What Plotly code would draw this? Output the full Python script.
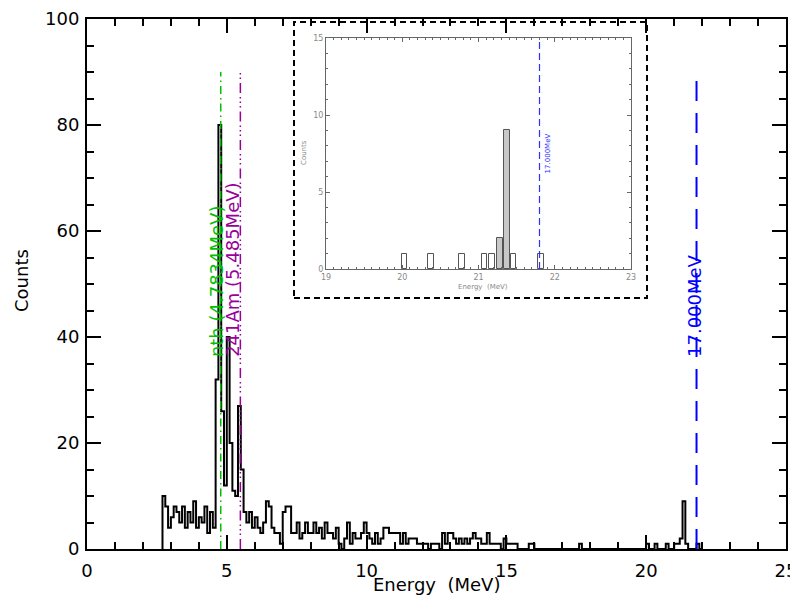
import numpy as np
import plotly.graph_objects as go

# ---------------- data ----------------
bin_width = 0.1
main_start = 2.7
main_counts = [10, 8, 4, 6, 8, 7, 5, 8, 4, 7,        # 2.7-3.6
               5, 9, 4, 6, 5, 8, 3, 7, 4, 32,        # 3.7-4.6
               80, 26, 12, 40, 20, 11, 10, 27, 15, 7,  # 4.7-5.6
               5, 7, 4, 6, 4, 3, 5, 9, 8, 4,         # 5.7-6.6
               3, 3, 1, 7, 8, 8, 3, 3, 5, 2,         # 6.7-7.6
               3, 5, 3, 3, 5, 3, 4, 2, 5, 3,         # 7.7-8.6
               3, 2, 4, 1, 0, 2, 5, 1, 3, 2,         # 8.7-9.6
               2, 3, 5, 3, 2, 1, 3, 1, 2, 4,         # 9.7-10.6
               4, 3, 3, 3, 3, 1, 3, 1, 2, 2,         # 10.7-11.6
               2, 1, 1, 1, 1, 0, 1, 1, 1, 0,         # 11.7-12.6
               3, 1, 3, 3, 2, 1, 2, 1, 2, 1,         # 12.7-13.6
               2, 3, 2, 2, 1, 1, 3, 1, 1, 1,         # 13.7-14.6
               1, 0, 2, 1, 1, 1, 1, 0, 0, 0,         # 14.7-15.6
               0, 1, 1]                              # 15.7-15.9
high_bins = [17.6, 20.0, 20.3, 20.7, 21.0, 21.1, 21.2, 21.3, 21.4, 21.8]
high_counts = [1, 1, 1, 1, 1, 1, 2, 9, 1, 1]
main_end = 22.0

inset_centers = [20.03, 20.38, 20.78, 21.08, 21.18, 21.28, 21.37, 21.46, 21.82]
inset_counts = [1, 1, 1, 1, 1, 2, 9, 1, 1]

line_energies = [4.7834, 5.485, 21.8]
line_labels = ["nth (4.7834MeV)", "241Am (5.485MeV)", "17.000MeV"]
label_x = [4.61, 5.21, 21.72]
inset_line_label = "17.000MeV"

x_ticks = [0, 5, 10, 15, 20, 25]
y_ticks = [0, 20, 40, 60, 80, 100]
inset_x_ticks = [19, 20, 21, 22, 23]
inset_y_ticks = [0, 5, 10, 15]

# ---------------- geometry helpers (page pixels -> paper) ----------------
PL, PR, PT, PB = 86, 785, 18, 548


def px(x):
    return (x - PL) / (PR - PL)


def py(y):
    return (PB - y) / (PB - PT)


# ---------------- build step histogram ----------------
n_bins = int(round((main_end - main_start) / bin_width))
full = np.zeros(n_bins)
full[:len(main_counts)] = main_counts
for e, c in zip(high_bins, high_counts):
    full[int(round((e - main_start) / bin_width))] = c
edges = main_start + bin_width * np.arange(n_bins + 1)
xs = [edges[0]] + list(edges[:-1]) + [edges[-1]]
ys = [0] + list(full) + [0]

fig = go.Figure()
fig.add_trace(go.Scatter(x=xs, y=ys, mode="lines", line=dict(color="black", width=2, shape="hv"),
                         hoverinfo="skip"))

line_colors = ["#00c000", "#990099", "#0000ff"]
dashes = ["8px,4px,1.5px,4px", "10px,4px,1.5px,3px,1.5px,3px,1.5px,4px", "20px,12px"]
widths = [1.5, 1.5, 2]
for e, col, d, w in zip(line_energies, line_colors, dashes, widths):
    fig.add_shape(type="line", xref="x", yref="y", x0=e, x1=e, y0=0, y1=90,
                  line=dict(color=col, width=w, dash=d))

for lab, lx, col in zip(line_labels, label_x, line_colors):
    fig.add_annotation(x=lx, y=36, xref="x", yref="y", text=lab, showarrow=False, textangle=-90,
                       xanchor="center", yanchor="bottom", borderpad=0,
                       font=dict(family="DejaVu Sans", size=18, color=col))

# inset
bar_fill = ["#c8c8c8" if c > 1 else "white" for c in inset_counts]
fig.add_trace(go.Bar(x=inset_centers, y=inset_counts, width=0.075, xaxis="x2", yaxis="y2",
                     marker=dict(color=bar_fill, line=dict(color="#555555", width=1)),
                     hoverinfo="skip"))
fig.add_shape(type="line", xref="x2", yref="y2", x0=21.8, x1=21.8, y0=0, y1=15,
              line=dict(color="#3030ff", width=1.2, dash="7px,4px"))
fig.add_annotation(x=21.91, y=7.5, xref="x2", yref="y2", text=inset_line_label, showarrow=False,
                   textangle=-90, xanchor="center", yanchor="middle",
                   font=dict(family="DejaVu Sans", size=7, color="#3030ff"))

# dashed inset frame
fig.add_shape(type="rect", xref="paper", yref="paper", x0=px(293), x1=px(646), y0=py(297), y1=py(21),
              line=dict(color="black", width=2, dash="6px,4px"), layer="above")

# axis titles
fig.add_annotation(x=px(435), y=py(583), xref="paper", yref="paper",
                   text="Energy  (MeV)", showarrow=False, xanchor="center", yanchor="middle",
                   font=dict(family="DejaVu Sans", size=18, color="black"))
fig.add_annotation(x=px(20), y=py(280), xref="paper", yref="paper", text="Counts",
                   showarrow=False, textangle=-90, xanchor="center", yanchor="middle",
                   font=dict(family="DejaVu Sans", size=18, color="black"))
fig.add_annotation(x=px(303), y=py(152), xref="paper", yref="paper",
                   text="Counts", showarrow=False, textangle=-90, xanchor="center", yanchor="middle",
                   font=dict(family="DejaVu Sans", size=7, color="#888888"))
fig.add_annotation(x=px(482), y=py(286), xref="paper", yref="paper",
                   text="Energy  (MeV)", showarrow=False, xanchor="center", yanchor="middle",
                   font=dict(family="DejaVu Sans", size=7, color="#888888"))

main_ax = dict(showgrid=False, zeroline=False, ticks="inside", ticklen=14, tickwidth=2,
               tickcolor="black", linewidth=2, linecolor="black", mirror="ticks", automargin=False,
               ticklabeloverflow="allow",
               tickfont=dict(family="DejaVu Sans", size=18, color="black"))
inset_ax = dict(showgrid=False, zeroline=False, ticks="inside", ticklen=4, tickwidth=1,
                tickcolor="#666666", linewidth=1, linecolor="#666666", mirror="ticks", automargin=False,
                tickfont=dict(family="DejaVu Sans", size=8, color="#888888"))

fig.update_layout(
    width=790, height=595, margin=dict(l=79, r=12, t=11, b=54, autoexpand=False),
    plot_bgcolor="white", paper_bgcolor="white", showlegend=False, bargap=0,
    xaxis=dict(range=[0, 25], tickvals=x_ticks, ticklabelstandoff=4,
               minor=dict(dtick=1, tick0=0, ticks="inside", ticklen=7, tickwidth=2, tickcolor="black"),
               **main_ax),
    yaxis=dict(range=[0, 100], tickvals=y_ticks, ticklabelstandoff=2,
               minor=dict(dtick=5, tick0=0, ticks="inside", ticklen=7, tickwidth=2, tickcolor="black"),
               **main_ax),
    xaxis2=dict(domain=[px(325), px(630)], anchor="y2", range=[19, 23], tickvals=inset_x_ticks,
                minor=dict(dtick=0.1, tick0=19, ticks="inside", ticklen=2, tickcolor="#666666"),
                **inset_ax),
    yaxis2=dict(domain=[py(268), py(37)], anchor="x2", range=[0, 15], tickvals=inset_y_ticks,
                minor=dict(dtick=1, tick0=0, ticks="inside", ticklen=2, tickcolor="#666666"),
                **inset_ax),
)

fig.write_html("out.html")
